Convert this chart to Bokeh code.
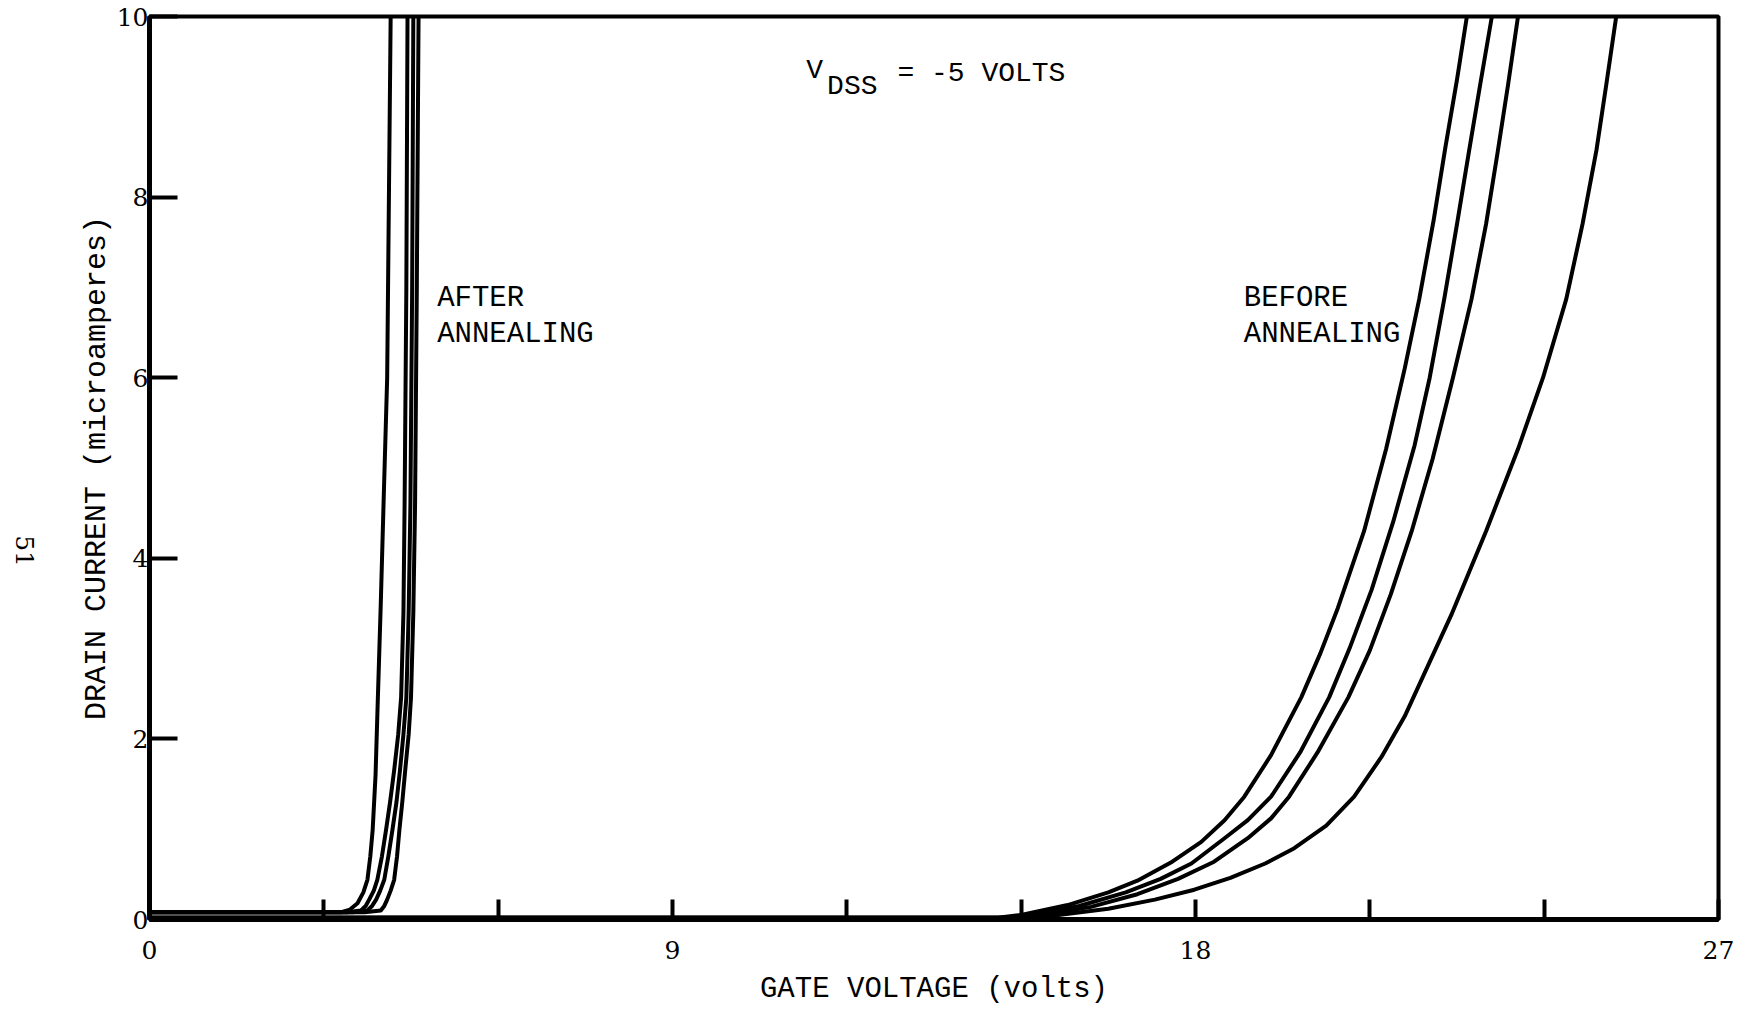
import math
from bokeh.plotting import figure
from bokeh.layouts import row
from bokeh.models import Label, FixedTicker, Range1d
from bokeh.embed import file_html
from bokeh.resources import INLINE

# ---- data ----
# After annealing (gate voltage in volts, drain current in microamperes)
after1_v = [0.0, 3.30, 3.45, 3.58, 3.68, 3.75, 3.80, 3.84, 3.89, 3.93, 3.98, 4.03, 4.09, 4.12, 4.15]
after1_i = [0.08, 0.08, 0.11, 0.18, 0.30, 0.44, 0.70, 0.99, 1.60, 2.46, 3.50, 4.66, 6.00, 8.00, 10.0]
after2_v = [0.0, 3.40, 3.64, 3.72, 3.78, 3.86, 3.92, 4.00, 4.07, 4.14, 4.21, 4.28, 4.33, 4.37, 4.39, 4.42, 4.44]
after2_i = [0.08, 0.08, 0.10, 0.15, 0.22, 0.32, 0.44, 0.70, 0.99, 1.30, 1.65, 2.05, 2.46, 3.40, 4.60, 7.00, 10.0]
after3_v = [0.0, 3.50, 3.75, 3.83, 3.90, 3.97, 4.04, 4.11, 4.18, 4.25, 4.31, 4.37, 4.42, 4.46, 4.49, 4.52, 4.54]
after3_i = [0.08, 0.08, 0.10, 0.15, 0.22, 0.32, 0.44, 0.70, 0.99, 1.30, 1.65, 2.05, 2.46, 3.40, 4.60, 7.00, 10.0]
after4_v = [0.0, 3.70, 3.98, 4.04, 4.09, 4.15, 4.21, 4.26, 4.30, 4.35, 4.40, 4.46, 4.50, 4.54, 4.57, 4.60, 4.63]
after4_i = [0.08, 0.08, 0.10, 0.15, 0.22, 0.32, 0.44, 0.70, 0.99, 1.30, 1.65, 2.05, 2.46, 3.40, 4.60, 7.00, 10.0]

# Before annealing
before1_v = [0.0, 14.6, 15.0, 15.8, 16.5, 17.0, 17.6, 18.1, 18.5, 18.84, 19.3, 19.82, 20.15, 20.45,
             20.9, 21.28, 21.6, 21.85, 22.1, 22.3, 22.5, 22.67]
before1_i = [0.02, 0.02, 0.05, 0.16, 0.30, 0.43, 0.64, 0.86, 1.10, 1.36, 1.82, 2.46, 2.95, 3.45,
             4.30, 5.21, 6.10, 6.87, 7.75, 8.55, 9.30, 10.0]
before2_v = [0.0, 14.7, 15.2, 16.0, 16.8, 17.4, 17.93, 18.5, 18.9, 19.3, 19.8, 20.3, 20.65, 21.03,
             21.4, 21.77, 22.03, 22.28, 22.5, 22.71, 22.9, 23.1]
before2_i = [0.02, 0.02, 0.05, 0.15, 0.30, 0.45, 0.62, 0.90, 1.10, 1.36, 1.85, 2.46, 3.00, 3.65,
             4.40, 5.25, 6.00, 6.87, 7.70, 8.52, 9.25, 10.0]
before3_v = [0.0, 14.8, 15.3, 16.2, 17.0, 17.7, 18.32, 18.9, 19.3, 19.61, 20.1, 20.63, 21.0, 21.36,
             21.72, 22.08, 22.43, 22.75, 23.0, 23.2, 23.38, 23.55]
before3_i = [0.02, 0.02, 0.04, 0.14, 0.28, 0.45, 0.64, 0.90, 1.12, 1.36, 1.85, 2.46, 2.98, 3.60,
             4.30, 5.10, 6.00, 6.87, 7.70, 8.50, 9.25, 10.0]
before4_v = [0.0, 14.9, 15.4, 16.5, 17.3, 17.98, 18.6, 19.2, 19.7, 20.25, 20.73, 21.2, 21.6, 22.4,
             23.0, 23.55, 23.98, 24.38, 24.66, 24.9, 25.07, 25.24]
before4_i = [0.02, 0.02, 0.03, 0.12, 0.22, 0.33, 0.46, 0.62, 0.79, 1.04, 1.36, 1.80, 2.25, 3.37,
             4.30, 5.21, 6.00, 6.87, 7.70, 8.52, 9.25, 10.0]

x_ticks = [0, 3, 6, 9, 12, 15, 18, 21, 24, 27]
x_tick_labels = {0: "0", 9: "9", 18: "18", 27: "27"}
y_ticks = [0, 2, 4, 6, 8, 10]

MONO = "Liberation Mono"
SERIF = "DejaVu Serif"
H = 1008

# ---- narrow strip on the left holding the page number ----
pg = figure(width=60, height=H, output_backend="svg", toolbar_location=None,
            x_range=Range1d(0, 1), y_range=Range1d(0, 1), min_border=0,
            x_axis_location=None, y_axis_location=None)
pg.grid.visible = False
pg.outline_line_color = None
pg.background_fill_color = "white"
pg.border_fill_color = "white"
pg.add_layout(Label(x=0.40, y=0.408, text="51", text_font=SERIF, text_font_size="25px",
                    text_color="black", text_align="center", text_baseline="middle",
                    angle=-math.pi / 2))

# ---- main chart ----
p = figure(width=1690, height=H, output_backend="svg", toolbar_location=None,
           x_range=Range1d(0, 27), y_range=Range1d(0, 10),
           min_border_left=89, min_border_right=32, min_border_top=16, min_border_bottom=85)
p.background_fill_color = "white"
p.border_fill_color = "white"
p.grid.visible = False
p.outline_line_color = "black"
p.outline_line_width = 4

curves = [(after1_v, after1_i), (after2_v, after2_i), (after3_v, after3_i), (after4_v, after4_i),
          (before1_v, before1_i), (before2_v, before2_i), (before3_v, before3_i), (before4_v, before4_i)]
for xs, ys in curves:
    p.line(xs, ys, line_color="black", line_width=4, line_join="round", line_cap="round")

p.xaxis.ticker = FixedTicker(ticks=x_ticks)
p.xaxis.major_label_overrides = {t: x_tick_labels.get(t, "") for t in x_ticks}
p.yaxis.ticker = FixedTicker(ticks=y_ticks)
for ax in (p.xaxis, p.yaxis):
    ax.axis_line_width = 5
    ax.axis_line_color = "black"
    ax.major_tick_line_color = "black"
    ax.major_tick_line_width = 4
    ax.major_tick_out = 0
    ax.minor_tick_line_color = None
    ax.major_label_text_font = SERIF
    ax.major_label_text_font_size = "25px"
    ax.major_label_text_color = "black"
    ax.axis_label_text_font = MONO
    ax.axis_label_text_font_style = "normal"
    ax.axis_label_text_color = "black"
p.xaxis.major_tick_in = 20
p.yaxis.major_tick_in = 28
p.xaxis.major_label_standoff = 21
p.yaxis.major_label_standoff = 1
p.xaxis.axis_label = "GATE VOLTAGE (volts)"
p.xaxis.axis_label_text_font_size = "29px"
p.xaxis.axis_label_standoff = 11
p.yaxis.axis_label = "DRAIN CURRENT (microamperes)"
p.yaxis.axis_label_text_font_size = "30px"
p.yaxis.axis_label_standoff = 0


def lab(x, y, text, size="28px"):
    p.add_layout(Label(x=x, y=y, text=text, text_font=MONO, text_font_size=size,
                       text_color="black", text_baseline="middle", text_align="left"))


lab(4.95, 6.88, "AFTER", "29px")
lab(4.95, 6.48, "ANNEALING", "29px")
lab(18.83, 6.88, "BEFORE", "29px")
lab(18.83, 6.48, "ANNEALING", "29px")
lab(11.30, 9.40, "V")
lab(11.66, 9.23, "DSS")
lab(12.87, 9.37, "= -5 VOLTS")

open("out.html", "w").write(file_html(row(pg, p), INLINE))
